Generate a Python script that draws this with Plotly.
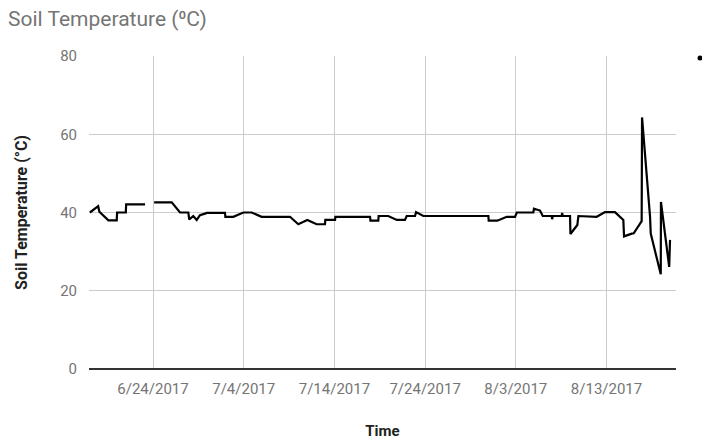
import plotly.graph_objects as go

# ---- data ----
times = [
    "2017-06-17 01:00", "2017-06-17 23:00", "2017-06-18 02:00", "2017-06-19 02:00",
    "2017-06-20 00:00", "2017-06-20 01:00", "2017-06-21 00:00", "2017-06-21 01:00",
    "2017-06-23 03:00", "2017-06-23 12:00",
    "2017-06-24 03:00", "2017-06-26 01:30", "2017-06-26 23:30", "2017-06-27 21:30",
    "2017-06-28 00:00", "2017-06-28 10:30", "2017-06-28 19:40", "2017-06-29 04:20",
    "2017-06-29 17:30", "2017-06-29 22:00", "2017-07-01 22:30", "2017-07-01 23:30",
    "2017-07-02 20:30", "2017-07-03 23:00", "2017-07-04 21:00", "2017-07-05 23:30",
    "2017-07-09 02:30", "2017-07-10 00:30", "2017-07-11 00:15", "2017-07-12 01:00",
    "2017-07-12 23:00", "2017-07-13 00:00", "2017-07-14 01:40", "2017-07-14 02:40",
    "2017-07-17 22:20", "2017-07-17 23:20", "2017-07-18 20:10", "2017-07-18 21:00",
    "2017-07-19 22:30", "2017-07-20 21:00", "2017-07-21 18:45", "2017-07-21 23:15",
    "2017-07-22 21:20", "2017-07-23 00:00", "2017-07-23 19:10", "2017-07-30 23:20",
    "2017-07-31 00:20", "2017-07-31 23:00", "2017-08-02 00:00", "2017-08-02 22:00",
    "2017-08-03 02:30", "2017-08-04 22:20", "2017-08-05 00:00", "2017-08-05 16:00",
    "2017-08-05 23:20", "2017-08-06 23:00", "2017-08-07 00:00", "2017-08-07 02:00",
    "2017-08-08 01:30", "2017-08-08 02:30", "2017-08-08 04:30", "2017-08-08 23:30",
    "2017-08-09 00:30", "2017-08-09 18:45", "2017-08-09 21:30", "2017-08-11 22:00",
    "2017-08-12 20:00", "2017-08-13 22:20", "2017-08-14 20:30", "2017-08-14 22:20",
    "2017-08-15 18:45", "2017-08-16 00:00", "2017-08-16 21:00", "2017-08-16 22:00",
    "2017-08-17 19:10", "2017-08-17 21:00", "2017-08-18 23:30", "2017-08-19 00:00",
    "2017-08-19 21:50", "2017-08-20 00:00",
]
soil_temp = [
    40.0, 41.6, 40.2, 38.0,
    38.0, 40.0, 40.0, 42.1,
    42.1, None,
    42.6, 42.6, 40.0, 40.0,
    38.2, 39.1, 38.1, 39.3,
    39.7, 39.9, 39.9, 38.9,
    38.9, 40.0, 40.0, 38.9,
    38.9, 37.0, 38.1, 37.0,
    37.0, 38.1, 38.1, 38.9,
    38.9, 37.9, 37.9, 39.1,
    39.1, 38.1, 38.1, 39.1,
    39.1, 40.1, 39.1, 39.1,
    37.9, 37.9, 38.9, 38.9,
    40.0, 40.0, 41.0, 40.5,
    39.1, 39.1, 38.3, 39.1,
    39.1, 39.9, 39.1, 39.1,
    34.5, 36.8, 39.1, 38.9,
    40.1, 40.1, 38.1, 33.9,
    34.6, 34.7, 37.8, 64.3,
    38.9, 34.6, 24.2, 42.7,
    26.1, 33.0,
]

x_tick_vals = ["2017-06-24", "2017-07-04", "2017-07-14", "2017-07-24", "2017-08-03", "2017-08-13"]
x_tick_text = ["6/24/2017", "7/4/2017", "7/14/2017", "7/24/2017", "8/3/2017", "8/13/2017"]
y_tick_vals = [0, 20, 40, 60, 80]

FONT = "Roboto"
GREY = "#757575"

fig = go.Figure()
fig.add_trace(go.Scatter(
    x=times, y=soil_temp, mode="lines", connectgaps=False,
    line=dict(color="#000000", width=2.2), name="Soil Temperature",
    showlegend=False,
))

fig.update_layout(
    width=702, height=443,
    margin=dict(l=89, r=26, t=56, b=74),
    paper_bgcolor="white", plot_bgcolor="white",
    font=dict(family=FONT, color=GREY),
    title=dict(text="Soil Temperature (⁰C)", x=8 / 702, xanchor="left",
               y=1 - 19 / 443, yanchor="middle", pad=dict(l=0, r=0, t=0, b=0),
               font=dict(family=FONT, size=21, color=GREY)),
    xaxis=dict(
        type="date", automargin=False,
        range=["2017-06-16 22:40", "2017-08-20 15:50"],
        tickmode="array", tickvals=x_tick_vals, ticktext=x_tick_text,
        showgrid=True, gridcolor="#cccccc", gridwidth=1,
        showline=False, zeroline=False,
        ticks="outside", ticklen=6, tickcolor="rgba(0,0,0,0)",
        tickfont=dict(family=FONT, size=15, color=GREY),
        title=dict(text="<b>Time</b>", standoff=28,
                   font=dict(family=FONT, size=15, color="#222222")),
    ),
    yaxis=dict(
        range=[0, 80], automargin=False,
        tickmode="array", tickvals=y_tick_vals,
        showgrid=True, gridcolor="#cccccc", gridwidth=1,
        zeroline=True, zerolinecolor="#333333", zerolinewidth=1.5,
        showline=False,
        ticks="outside", ticklen=8, tickcolor="rgba(0,0,0,0)",
        tickfont=dict(family=FONT, size=15, color=GREY),
        title=dict(text="<b>Soil Temperature (°C)</b>", standoff=28,
                   font=dict(family=FONT, size=16, color="#222222")),
    ),
)

# truncated legend marker at the far right edge
fig.add_shape(type="circle", xref="paper", yref="paper",
              x0=(697.5 - 89) / 587, x1=(702.5 - 89) / 587,
              y0=(369 - 60.5) / 313, y1=(369 - 55.5) / 313,
              fillcolor="#000000", line=dict(width=0))

fig.write_html("out.html", config={"displayModeBar": False},
               post_script="document.body.style.margin='0';")
